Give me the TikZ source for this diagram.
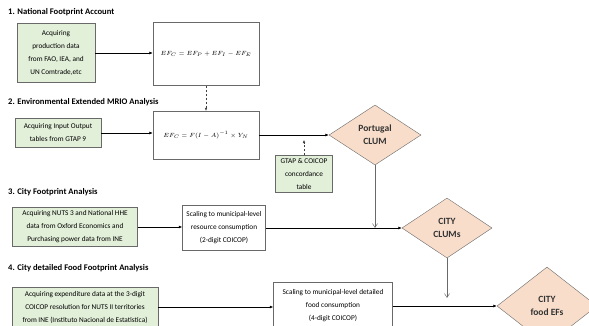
\documentclass[tikz,border=0pt]{standalone}
\usepackage{fontspec}
\setmainfont{Carlito}
\usetikzlibrary{shapes.geometric,arrows.meta}
\definecolor{srcgreen}{RGB}{226,239,217}
\definecolor{clumpeach}{RGB}{248,221,202}
\definecolor{edgegray}{RGB}{105,105,105}
\begin{document}
\begin{tikzpicture}[x=1pt,y=-1pt,
    head/.style={anchor=west,inner sep=0pt,font=\fontsize{8.6}{10}\selectfont\bfseries},
    src/.style={draw=edgegray,fill=srcgreen,align=center,inner sep=1pt,font=\fontsize{7.3}{13}\selectfont},
    calc/.style={draw=edgegray,fill=white,align=center,inner sep=1pt,font=\fontsize{7.3}{13}\selectfont},
    clum/.style={diamond,draw=edgegray,fill=clumpeach,align=center,inner sep=0pt,font=\fontsize{9.5}{13}\selectfont\bfseries,text=black!80},
    flow/.style={-{Latex[length=3.5pt,width=3pt]},line width=0.9pt},
    dflow/.style={-{Latex[length=3pt,width=2.6pt]},draw=black!75,dash pattern=on 2.5pt off 1.5pt,line width=0.4pt},
    drop/.style={-{Straight Barb[length=4pt,width=5pt]},draw=edgegray,line width=0.5pt}]
  \useasboundingbox (0,0) rectangle (589,325);

  \node[head] (h1) at (8,12) {1. National Footprint Account};
  \node[src,minimum width=78pt,minimum height=59pt] (src1) at (56,53) {Acquiring\\production data\\from FAO, IEA, and\\UN Comtrade,etc};
  \node[calc,minimum width=106pt,minimum height=63pt,font=\fontsize{6.3}{7}\selectfont] (eq1) at (206,54) {$EF_C = EF_P + EF_I - EF_E$};

  \node[head] (h2) at (8,102) {2. Environmental Extended MRIO Analysis};
  \node[src,minimum width=86pt,minimum height=29pt] (src2) at (58,133) {Acquiring Input Output\\tables from GTAP 9};
  \node[calc,minimum width=106pt,minimum height=48pt,font=\fontsize{6.3}{7}\selectfont] (eq2) at (206,135) {$EF_C = F(I-A)^{-1}\times Y_N$};
  \node[clum,minimum width=92pt,minimum height=60pt] (port) at (375,135) {Portugal\\CLUM};
  \node[src,minimum width=57pt,minimum height=37pt] (gtap) at (304,174) {GTAP \& COICOP\\concordance\\table};
  \coordinate (gtapin) at (304,140);

  \node[head] (h3) at (8,192) {3. City Footprint Analysis};
  \node[src,minimum width=125pt,minimum height=39pt] (src3) at (75,227) {Acquiring NUTS 3 and National HHE\\data from Oxford Economics and\\Purchasing power data from INE};
  \node[calc,minimum width=83pt,minimum height=45pt] (calc3) at (224,228) {Scaling to municipal-level\\resource consumption\\(2-digit COICOP)};
  \node[clum,minimum width=90pt,minimum height=60pt] (cities) at (447,228) {CITY\\CLUMs};
  \coordinate (portdrop) at (375,228);

  \node[head] (h4) at (8,268) {4. City detailed Food Footprint Analysis};
  \node[src,minimum width=146pt,minimum height=40pt] (src4) at (85,307) {Acquiring expenditure data at the 3-digit\\COICOP resolution for NUTS II territories\\from INE (Instituto Nacional de Estatistica)};
  \node[calc,minimum width=119pt,minimum height=47pt] (calc4) at (333,306) {Scaling to municipal-level detailed\\food consumption\\(4-digit COICOP)};
  \node[clum,minimum width=100pt,minimum height=78pt] (food) at (547,306) {CITY\\food EFs};
  \coordinate (citydrop) at (447,298);

  \draw[flow] (src1.east) -- (src1.east -| eq1.west);
  \draw[dflow] (eq1.south) -- (eq2.north);
  \draw[flow] (src2.east) -- (src2.east -| eq2.west);
  \draw[flow] (eq2.east) -- (port.west);
  \draw[dflow] (gtap.north) -- (gtapin);
  \draw[flow] (src3.east) -- (src3.east -| calc3.west);
  \draw[flow] (calc3.east) -- (cities.west);
  \draw[drop] (port.south) -- (portdrop);
  \draw[flow] (src4.east) -- (src4.east -| calc4.west);
  \draw[flow] (calc4.east) -- (food.west);
  \draw[drop] (cities.south) -- (citydrop);
\end{tikzpicture}
\end{document}
